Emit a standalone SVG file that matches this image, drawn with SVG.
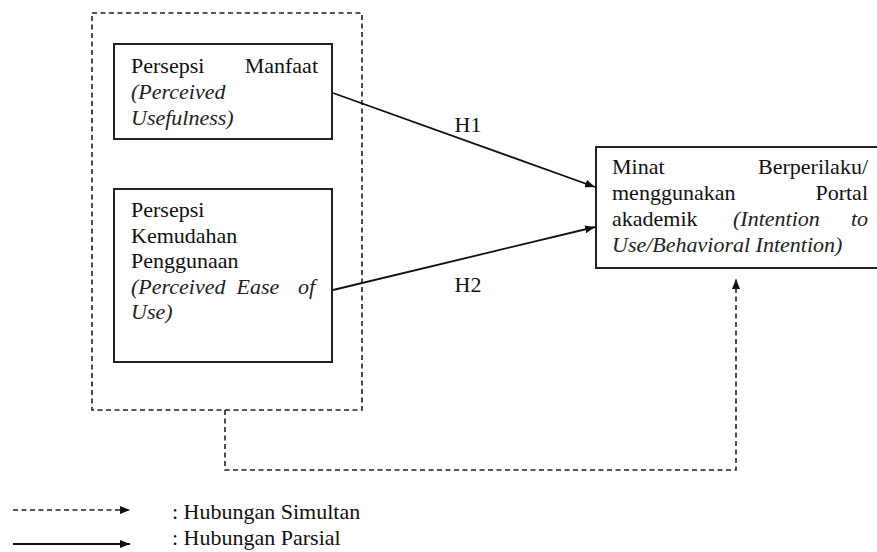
<svg xmlns="http://www.w3.org/2000/svg" width="877" height="552" viewBox="0 0 877 552">
<style>
text{font-family:'Liberation Serif','DejaVu Serif',serif;font-size:22px;fill:#111}
.it{font-style:italic;fill:#222}
.box{fill:#fff;stroke:#222;stroke-width:2}
.dash{fill:none;stroke:#222;stroke-width:1.6;stroke-dasharray:5 3.5}
.solid{fill:none;stroke:#111;stroke-width:1.8}
.end{text-anchor:end}
.mid{text-anchor:middle}
</style>
<defs>
<marker id="ah" viewBox="0 0 10 8" refX="10" refY="4" markerWidth="10" markerHeight="8" markerUnits="userSpaceOnUse" orient="auto">
<path d="M0,0 L10,4 L0,8 Z" fill="#111"/>
</marker>
</defs>
<g id="group-outer">
<rect class="dash" x="92" y="13" width="270" height="397"/>
</g>
<g id="node-pu" font-family="Liberation Serif, serif">
<rect class="box" x="114" y="44" width="218" height="95"/>
<text x="131" y="73">Persepsi</text>
<text class="end" x="318" y="73">Manfaat</text>
<text class="it" x="131" y="99">(Perceived</text>
<text class="it" x="131" y="125">Usefulness)</text>
</g>
<g id="node-peou">
<rect class="box" x="114" y="189" width="218" height="173"/>
<text x="131" y="217">Persepsi</text>
<text x="131" y="242.5">Kemudahan</text>
<text x="131" y="268">Penggunaan</text>
<text class="it" x="131" y="293.5">(Perceived</text>
<text class="it mid" x="258" y="293.5">Ease</text>
<text class="it end" x="315" y="293.5">of</text>
<text class="it" x="131" y="319">Use)</text>
</g>
<g id="node-intention">
<rect class="box" x="596" y="147" width="282" height="121"/>
<text x="612" y="174">Minat</text>
<text class="end" x="868" y="174">Berperilaku/</text>
<text x="612" y="200">menggunakan</text>
<text class="end" x="868" y="200">Portal</text>
<text x="612" y="226">akademik</text>
<text class="it" x="733" y="226">(Intention</text>
<text class="it end" x="868" y="226">to</text>
<text class="it" x="612" y="252">Use/Behavioral Intention)</text>
</g>
<g id="connectors">
<line class="solid" x1="333" y1="93" x2="595" y2="187" marker-end="url(#ah)"/>
<line class="solid" x1="333" y1="290" x2="595" y2="227" marker-end="url(#ah)"/>
<polyline class="dash" points="225,410 225,470 736,470 736,279" marker-end="url(#ah)"/>
<text class="mid" x="468" y="132">H1</text>
<text class="mid" x="468" y="292">H2</text>
</g>
<g id="legend">
<line class="dash" x1="13" y1="510" x2="130" y2="510" marker-end="url(#ah)"/>
<line class="solid" x1="13" y1="544" x2="130" y2="544" stroke-width="1.2" marker-end="url(#ah)"/>
<text x="172" y="519">: Hubungan Simultan</text>
<text x="172" y="545">: Hubungan Parsial</text>
</g>
</svg>
